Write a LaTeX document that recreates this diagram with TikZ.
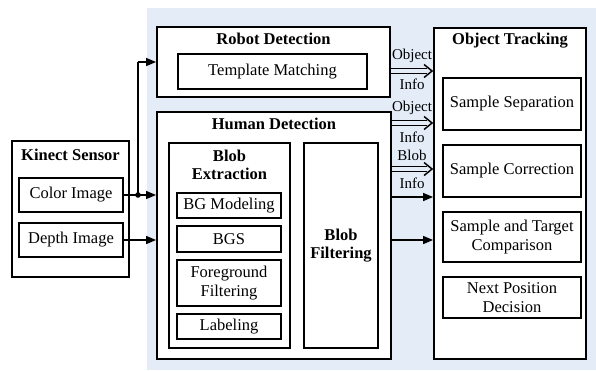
\documentclass[tikz,border=0pt]{standalone}
\usepackage{fontspec}
\setmainfont{Liberation Serif}
\usetikzlibrary{arrows.meta}
\definecolor{bgblue}{RGB}{228,236,247}
\tikzset{
  box/.style={draw=black, line width=1.9pt, fill=white, inner sep=0pt, align=center,
    font=\rmfamily\fontsize{16.5}{18.5}\selectfont},
  ttl/.style={inner sep=0pt, align=center, font=\rmfamily\fontsize{16.5}{18.5}\selectfont\bfseries},
  lbl/.style={inner sep=0pt, font=\rmfamily\fontsize{15}{16}\selectfont},
  arr/.style={line width=1.5pt, -{Triangle[length=10pt,width=8pt]}},
  dline/.style={line width=1.5pt},
  dhead/.style={line width=1.5pt},
}
\begin{document}
\begin{tikzpicture}[x=1pt,y=-1pt]
\useasboundingbox (0,0) rectangle (596,370);
\fill[bgblue] (147,8) rectangle (596,370);
% Kinect
\node[box, minimum width=117, minimum height=136] (kinect) at (70.5,209) {};
\node[ttl] (kinectT) at (70.5,155) {Kinect Sensor};
\node[box, minimum width=104, minimum height=34] (color) at (71,195) {Color Image};
\node[box, minimum width=104, minimum height=34] (depth) at (71,240) {Depth Image};
% Robot
\node[box, minimum width=233, minimum height=70] (robot) at (273.5,62) {};
\node[ttl] (robotT) at (273.5,39) {Robot Detection};
\node[box, minimum width=189, minimum height=35] (tmpl) at (272.5,71.5) {Template Matching};
% Human
\node[box, minimum width=234, minimum height=247] (human) at (274,235.5) {};
\node[ttl] (humanT) at (274,124) {Human Detection};
\node[box, minimum width=121, minimum height=205] (blobext) at (229.5,245.5) {};
\node[ttl] (blobextT) at (229.5,165) {Blob\\Extraction};
\node[box, minimum width=74, minimum height=205, font=\rmfamily\fontsize{16.5}{18.5}\selectfont\bfseries] (blobfilt) at (341,245.5) {Blob\\Filtering};
\node[box, minimum width=104, minimum height=25] (bgmod) at (229,205.5) {BG Modeling};
\node[box, minimum width=104, minimum height=26] (bgs) at (229,239) {BGS};
\node[box, minimum width=104, minimum height=46] (fgf) at (229,283) {Foreground\\Filtering};
\node[box, minimum width=104, minimum height=25] (labeling) at (229,326.5) {Labeling};
% Tracking
\node[box, minimum width=152, minimum height=331] (track) at (510,193.5) {};
\node[ttl] (trackT) at (510,41) {Object Tracking};
\node[box, minimum width=138, minimum height=52] (sep) at (512,104) {Sample Separation};
\node[box, minimum width=138, minimum height=52] (corr) at (512,171) {Sample Correction};
\node[box, minimum width=138, minimum height=50] (comp) at (512,237) {Sample and Target\\Comparison};
\node[box, minimum width=138, minimum height=41] (next) at (512,297.5) {Next Position\\Decision};
% Input connectors
\coordinate (dot) at (138,195);
\coordinate (up) at (138,62);
\draw[arr] (color.east) -- (human.west |- color.east);
\draw[line width=1.5pt] (dot) -- (up);
\draw[arr] (up) -- (robot.west |- up);
\fill (dot) circle (2.8pt);
\draw[arr] (depth.east) -- (human.west |- depth.east);
% Output double arrows (two rails and an open head)
\foreach \yy/\src in {71/robot,123/human,169/human}{
  \draw[dline] (\src.east |- 0,\yy-2.5) -- ([xshift=-6]track.west |- 0,\yy-2.5);
  \draw[dline] (\src.east |- 0,\yy+2.5) -- ([xshift=-6]track.west |- 0,\yy+2.5);
  \draw[dhead, line join=miter] ([xshift=-9]track.west |- 0,\yy-6.5) -- ([xshift=-1]track.west |- 0,\yy) -- ([xshift=-9]track.west |- 0,\yy+6.5);
}
\node[lbl] (o1) at (412,56) {Object};
\node[lbl] (i1) at (412,84) {Info};
\node[lbl] (o2) at (412,108) {Object};
\node[lbl] (i2) at (412,137) {Info};
\node[lbl] (b3) at (412,155) {Blob};
\node[lbl] (i3) at (412,183) {Info};
\draw[arr] (human.east |- 0,197) -- (track.west |- 0,197);
\draw[arr] (human.east |- 0,240) -- (track.west |- 0,240);
\end{tikzpicture}
\end{document}
